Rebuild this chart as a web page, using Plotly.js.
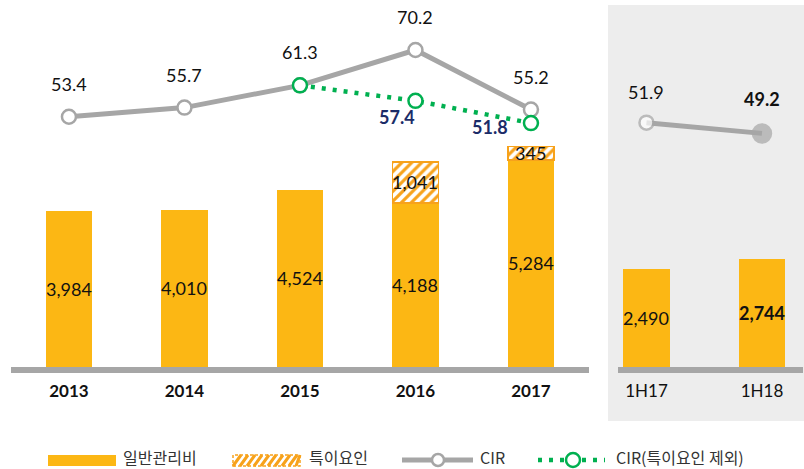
<!DOCTYPE html>
<html>
<head>
<meta charset="utf-8">
<script src="https://cdn.plot.ly/plotly-3.0.1.min.js"></script>
<style>html,body{margin:0;padding:0;background:#fff;}#chart{width:804px;height:469px;}</style>
</head>
<body>
<div id="chart"></div>
<script>
// ---- data ----
const categories = ['2013', '2014', '2015', '2016', '2017', '1H17', '1H18'];
const generalAdmin = [3984, 4010, 4524, 4188, 5284, 2490, 2744];
const specialFactors = [null, null, null, 1041, 345, null, null];
const cirYearCats = ['2013', '2014', '2015', '2016', '2017'];
const cirYearVals = [53.4, 55.7, 61.3, 70.2, 55.2];
const cirHalfCats = ['1H17', '1H18'];
const cirHalfVals = [51.9, 49.2];
const cirExclCats = ['2015', '2016', '2017'];
const cirExclVals = [61.3, 57.4, 51.8];
const tickLabels = ['<b>2013</b>', '<b>2014</b>', '<b>2015</b>', '<b>2016</b>', '<b>2017</b>', '1H17', '1H18'];
const legendLabels = ['일반관리비', '특이요인', 'CIR', 'CIR(특이요인 제외)'];

// ---- styles ----
const YELLOW = '#FCB714';
const ORANGE = '#F7A21B';
const GREY = '#A6A6A6';
const GREEN = '#00B050';
const NAVY = '#1B2C68';
const NUMFONT = 'Lato, "Open Sans", sans-serif';
const KRFONT = '"Noto Sans CJK KR", "Noto Sans", sans-serif';

const W = 804, PLOT_TOP = 10, PLOT_BOTTOM = 367, PH = PLOT_BOTTOM - PLOT_TOP;
const px = x => x / W;
const py = y => (PLOT_BOTTOM - y) / PH;
const idx = c => categories.indexOf(c);

const traces = [
  {
    type: 'bar', x: categories, y: generalAdmin, width: 0.4,
    marker: {color: YELLOW, line: {width: 0}},
    hoverinfo: 'y', showlegend: false, name: legendLabels[0]
  },
  {
    type: 'bar', x: categories, y: specialFactors, width: 0.4,
    marker: {color: '#ffffff', line: {color: ORANGE, width: 1.5},
      pattern: {shape: '/', fgcolor: ORANGE, bgcolor: '#ffffff', size: 7, solidity: 0.45, fillmode: 'replace'}},
    hoverinfo: 'y', showlegend: false, name: legendLabels[1]
  },
  {
    type: 'scatter', mode: 'lines+markers', x: cirYearCats, y: cirYearVals, yaxis: 'y2',
    line: {color: GREY, width: 5},
    marker: {size: 14, color: '#ffffff', line: {color: GREY, width: 2.5}},
    showlegend: false, name: legendLabels[2]
  },
  {
    type: 'scatter', mode: 'lines+markers', x: cirHalfCats, y: cirHalfVals, yaxis: 'y2',
    line: {color: GREY, width: 5},
    marker: {size: [14, 18], color: ['#ffffff', GREY], line: {color: GREY, width: 2.5}},
    showlegend: false, name: legendLabels[2]
  },
  {
    type: 'scatter', mode: 'lines+markers', x: cirExclCats, y: cirExclVals, yaxis: 'y2',
    line: {color: GREEN, width: 4.5, dash: '4px,7px'},
    marker: {size: 14, color: '#ffffff', line: {color: GREEN, width: 2.5}},
    showlegend: false, name: legendLabels[3]
  }
];

const annotations = [];
// bar labels
generalAdmin.forEach((v, i) => {
  const bold = categories[i] === '1H18';
  annotations.push({
    x: i, y: v / 2, xref: 'x', yref: 'y', showarrow: false,
    text: (bold ? '<b>' : '') + v.toLocaleString('en-US') + (bold ? '</b>' : ''),
    font: {family: NUMFONT, size: 18, color: '#111'}
  });
});
specialFactors.forEach((v, i) => {
  if (v == null) return;
  annotations.push({
    x: i, y: generalAdmin[i] + v / 2, xref: 'x', yref: 'y', showarrow: false,
    text: v.toLocaleString('en-US'),
    font: {family: NUMFONT, size: 18, color: '#111'}
  });
});
// CIR labels
cirYearCats.forEach((c, i) => {
  annotations.push({x: idx(c), y: cirYearVals[i], xref: 'x', yref: 'y2', yshift: 33, showarrow: false,
    text: cirYearVals[i].toFixed(1), font: {family: NUMFONT, size: 18, color: '#111'}});
});
cirHalfCats.forEach((c, i) => {
  const bold = i === 1;
  annotations.push({x: idx(c), y: cirHalfVals[i], xref: 'x', yref: 'y2', yshift: bold ? 34 : 31, showarrow: false,
    text: (bold ? '<b>' : '') + cirHalfVals[i].toFixed(1) + (bold ? '</b>' : ''),
    font: {family: NUMFONT, size: 18, color: '#111'}});
});
// CIR excl labels (first point shares its label with CIR)
const exclShift = [null, [-18, -16], [-41, -4]];
cirExclCats.forEach((c, i) => {
  if (!exclShift[i]) return;
  annotations.push({x: idx(c), y: cirExclVals[i], xref: 'x', yref: 'y2', xshift: exclShift[i][0], yshift: exclShift[i][1],
    showarrow: false, text: '<b>' + cirExclVals[i].toFixed(1) + '</b>',
    font: {family: NUMFONT, size: 18, color: NAVY}});
});

// manual legend
const LY = 457;
const legendText = [[122, legendLabels[0]], [308, legendLabels[1]], [479, legendLabels[2]], [615, legendLabels[3]]];
legendText.forEach(([x, t]) => {
  annotations.push({x: px(x), y: py(LY), xref: 'paper', yref: 'paper', xanchor: 'left', yanchor: 'middle',
    showarrow: false, borderpad: 0, text: t, font: {family: KRFONT, size: 16, color: '#333'}});
});

const shapes = [
  // right panel background
  {type: 'rect', xref: 'paper', yref: 'paper', x0: px(608), x1: px(804), y0: py(421), y1: py(5),
    fillcolor: '#EDEDED', line: {width: 0}, layer: 'below'},
  // baselines
  {type: 'line', xref: 'paper', yref: 'paper', x0: px(11), x1: px(589), y0: py(370), y1: py(370),
    line: {color: GREY, width: 6}},
  {type: 'line', xref: 'paper', yref: 'paper', x0: px(618), x1: px(803), y0: py(370), y1: py(370),
    line: {color: GREY, width: 6}},
  // legend swatches
  {type: 'rect', xref: 'paper', yref: 'paper', x0: px(48), x1: px(116), y0: py(466), y1: py(455),
    fillcolor: YELLOW, line: {width: 0}},
  {type: 'rect', xref: 'paper', yref: 'paper', x0: px(233), x1: px(300), y0: py(466), y1: py(455),
    fillcolor: '#ffffff', line: {color: ORANGE, width: 1.5, dash: '3px,2px'}},
  {type: 'line', xref: 'paper', yref: 'paper', x0: px(402), x1: px(473), y0: py(460), y1: py(460),
    line: {color: GREY, width: 5}},
  {type: 'circle', xref: 'paper', yref: 'paper', xsizemode: 'pixel', ysizemode: 'pixel',
    xanchor: px(438), yanchor: py(460), x0: -6, x1: 6, y0: -6, y1: 6,
    fillcolor: '#ffffff', line: {color: GREY, width: 2.5}},
  {type: 'line', xref: 'paper', yref: 'paper', x0: px(538), x1: px(605), y0: py(460), y1: py(460),
    line: {color: GREEN, width: 4.5, dash: '4px,7px'}},
  {type: 'circle', xref: 'paper', yref: 'paper', xsizemode: 'pixel', ysizemode: 'pixel',
    xanchor: px(573), yanchor: py(460), x0: -7, x1: 7, y0: -7, y1: 7,
    fillcolor: '#ffffff', line: {color: GREEN, width: 2.5}}
];
// hatch diagonals in legend swatch
let hp = '';
for (let x = 233; x < 300; x += 7) {
  const x2 = Math.min(x + 8, 300);
  hp += `M${px(x)},${py(466)} L${px(x2)},${py(455)} `;
}
shapes.push({type: 'path', xref: 'paper', yref: 'paper', path: hp, line: {color: ORANGE, width: 3}});

const layout = {
  width: 804, height: 469,
  margin: {l: 0, r: 0, t: PLOT_TOP, b: 469 - PLOT_BOTTOM},
  paper_bgcolor: '#ffffff', plot_bgcolor: 'rgba(0,0,0,0)',
  barmode: 'stack', showlegend: false,
  xaxis: {type: 'category', categoryorder: 'array', categoryarray: categories,
    range: [-0.597, 6.364], showgrid: false, zeroline: false, showline: false, ticks: '',
    tickvals: categories, ticktext: tickLabels, ticklabelstandoff: 12,
    tickfont: {family: NUMFONT, size: 17, color: '#111'}},
  yaxis: {range: [0, 9107], visible: false, showgrid: false, zeroline: false},
  yaxis2: {range: [-9.65, 80.28], overlaying: 'y', visible: false, showgrid: false, zeroline: false},
  annotations: annotations,
  shapes: shapes
};

Plotly.newPlot('chart', traces, layout, {displayModeBar: false, staticPlot: true});
</script>
</body>
</html>
